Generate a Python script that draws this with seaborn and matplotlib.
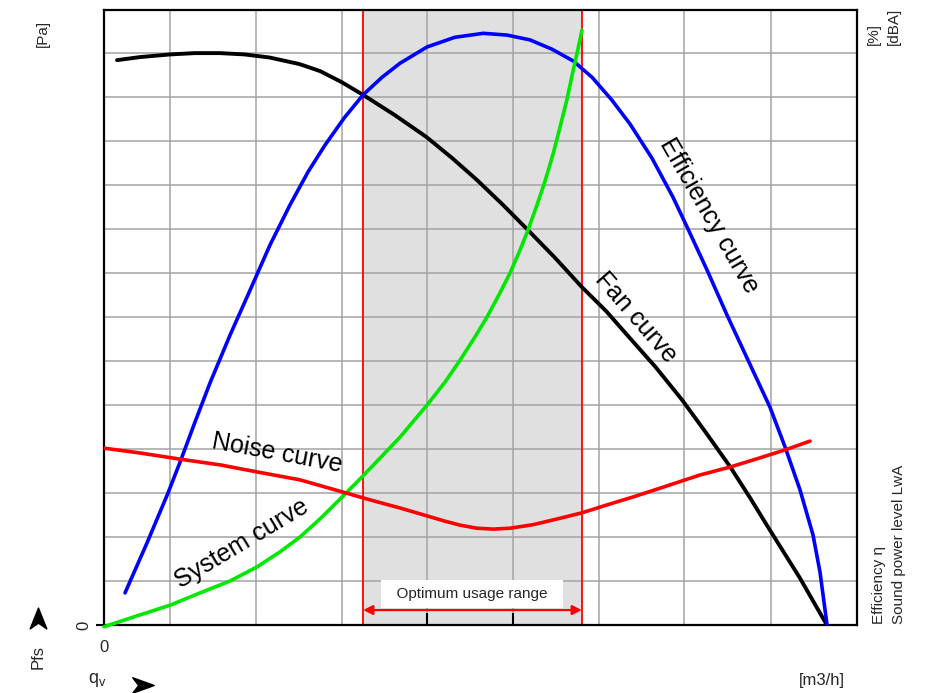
import matplotlib
matplotlib.use("Agg")
import matplotlib.pyplot as plt
from matplotlib.lines import Line2D
from matplotlib.path import Path
import seaborn as sns

# flow axis: one grid cell = 100, vertical axis: one grid cell = 10
fan_q = [15.2, 42, 77, 106, 135, 164, 193, 228, 252, 277, 302, 339, 376, 406, 435, 465, 494,
         526, 557, 585, 613, 643, 674, 702, 730, 753, 776, 811, 841]
fan_p = [128.4, 129.1, 129.7, 130.0, 130.0, 129.7, 129.0, 127.5, 125.9, 123.4, 120.5, 115.9,
         110.9, 106.1, 101.1, 95.5, 89.8, 83.4, 76.8, 71.4, 65.2, 58.6, 51.1, 43.6, 35.9,
         28.9, 21.6, 10.7, 0.5]

eff_q = [24.5, 50, 74.6, 88.6, 106, 123.5, 146.9, 170.2, 193.5, 216.8, 237.8, 257.6, 279.7,
         301.9, 324, 345, 376.5, 409, 442, 469.7, 496.5, 522, 547, 568.8, 592, 613, 638.7,
         663, 679.5, 702.8, 726, 750.6, 776.2, 793.7, 811.2, 826.3, 834.5, 842.7]
eff_v = [7.3, 18.6, 30.0, 37.0, 46.1, 55.0, 65.9, 76.1, 86.4, 95.5, 103.0, 109.1, 115.2,
         120.5, 124.5, 127.7, 131.4, 133.6, 134.5, 134.1, 133.0, 130.9, 128.2, 124.5, 119.3,
         113.9, 106.1, 97.3, 90.5, 80.7, 70.5, 60.2, 49.5, 40.5, 30.7, 20.5, 12.0, 0.0]

sys_q = [0, 42, 77, 112, 146.9, 178.3, 205, 228.4, 251.7, 278.6, 301.9, 324, 345, 376.5,
         397.4, 415, 432.4, 446.4, 461.5, 473.2, 484.8, 494.2, 504.7, 514, 523.3, 531.5,
         539.6, 546.6, 552.4, 557]
sys_p = [-0.4, 2.3, 4.5, 7.3, 10.0, 13.2, 16.6, 20.0, 24.1, 29.3, 33.9, 38.4, 42.7, 50.0,
         55.2, 60.2, 65.5, 70.0, 75.5, 80.0, 85.2, 89.8, 95.5, 100.9, 107.0, 113.2, 119.5,
         125.9, 130.9, 135.2]

noise_q = [0, 42, 88.6, 135.2, 178.3, 228.4, 278.6, 301.9, 324, 345, 376.5, 397.4, 415,
           434.7, 453.4, 473.2, 500, 528, 557, 586.2, 616.5, 648, 694.6, 729.6, 764.6,
           793.7, 822.8]
noise_v = [40.2, 39.1, 37.7, 36.4, 34.8, 33.0, 30.2, 28.9, 27.7, 26.6, 24.8, 23.6, 22.7,
           22.0, 21.8, 22.0, 22.8, 24.1, 25.5, 27.3, 29.1, 31.1, 34.1, 35.9, 38.0, 39.8, 41.8]

range_lo, range_hi = 302, 557
q_grid = [77, 177, 277, 376, 477, 577, 676, 777]
v_grid = [10, 20, 30, 40, 50, 60, 70, 80, 90, 100, 110, 120, 130]
inner_ticks = [376, 477]

sns.set_theme(style="white")
plt.rcParams["font.family"] = ["Liberation Sans", "DejaVu Sans"]

W, H = 948, 693
fig = plt.figure(figsize=(W / 100, H / 100), dpi=100)
ax = fig.add_axes([104 / W, 1 - 625 / H, 753 / W, 615 / H])
ax.set_xlim(0, 877.6)
ax.set_ylim(0, 139.8)

# optimum usage range
ax.axvspan(range_lo, range_hi, color="#e0e0e0", zorder=0.2, lw=0)
ax.set_axisbelow(True)

ax.set_xticks([0])
ax.set_xticklabels(["0"], fontsize=12)
ax.set_xticks(q_grid, minor=True)
ax.set_yticks([0])
ax.set_yticklabels(["0"], fontsize=12, rotation=90, va="center")
ax.set_yticks(v_grid, minor=True)
ax.tick_params(axis="x", which="major", length=0, pad=11)
ax.tick_params(axis="y", which="major", length=6, width=1.5, color="black", pad=3,
               left=True)
ax.tick_params(which="minor", length=0)
ax.grid(which="minor", color="#a3a3a3", lw=1.1)
for s in ax.spines.values():
    s.set_color("black")
    s.set_linewidth(1.6)

ax.vlines(inner_ticks, 0, 2.8, color="black", lw=1.5, zorder=3)
for xv in (range_lo, range_hi):
    ax.axvline(xv, color="red", lw=1.3, zorder=2)

sns.lineplot(x=fan_q, y=fan_p, color="black", lw=2.8, ax=ax, sort=False, zorder=4)
sns.lineplot(x=eff_q, y=eff_v, color="#0000ff", lw=2.6, ax=ax, sort=False, zorder=4)
sns.lineplot(x=sys_q, y=sys_p, color="#00e800", lw=2.6, ax=ax, sort=False, zorder=4,
             clip_on=False)
sns.lineplot(x=noise_q, y=noise_v, color="#ff0000", lw=2.6, ax=ax, sort=False, zorder=4)

ax.annotate("", xy=(range_hi, 3.4), xytext=(range_lo, 3.4),
            arrowprops=dict(arrowstyle="<|-|>", color="red", lw=1.6,
                            mutation_scale=14, shrinkA=0, shrinkB=0), zorder=5)
ax.text((range_lo + range_hi) / 2 - 1, 7.0, "  Optimum usage range  ", fontsize=11,
        ha="center", va="center", zorder=5,
        bbox=dict(boxstyle="square,pad=0.45", fc="white", ec="none"))

# curve names
lbl = dict(fontsize=18, ha="center", va="center", color="black", rotation_mode="anchor")
ax.text(705, 93.0, "Efficiency curve", rotation=-60, **lbl)
ax.text(620, 70.0, "Fan curve", rotation=-49, **lbl)
ax.text(202, 39.1, "Noise curve", rotation=-10.5, **lbl)
ax.text(160, 18.4, "System curve", rotation=31, **lbl)

# outer labels
def ftext(px, py, s, **kw):
    fig.text(px / W, 1 - py / H, s, **kw)

ftext(43, 33, "[Pa]", fontsize=11, rotation=90, ha="center", va="center")
ftext(874, 45, "[%]", fontsize=11, rotation=90, ha="center", va="bottom")
ftext(894, 45, "[dBA]", fontsize=11, rotation=90, ha="center", va="bottom")
ftext(879, 624, "Efficiency \u03b7", fontsize=11, rotation=90, ha="center", va="bottom")
ftext(899, 624, "Sound power level LwA", fontsize=11, rotation=90, ha="center", va="bottom")
ftext(38, 657, "Pfs", fontsize=12, rotation=90, ha="center", va="center")
ftext(97, 680, r"q$_\mathregular{v}$", fontsize=13, ha="center", va="center")
ftext(822, 680, "[m3/h]", fontsize=12, ha="center", va="center")

# notched arrowheads next to the axis names
head = Path([(1, 0), (-1, 0.72), (-0.45, 0), (-1, -0.72), (1, 0)],
            [Path.MOVETO, Path.LINETO, Path.LINETO, Path.LINETO, Path.CLOSEPOLY])
head_up = Path([(0, 1), (0.8, -1), (0, -0.45), (-0.8, -1), (0, 1)], head.codes)
fig.add_artist(Line2D([38 / W], [1 - 618 / H], transform=fig.transFigure, marker=head_up,
                      markersize=15, color="black", lw=0))
fig.add_artist(Line2D([143 / W], [1 - 685 / H], transform=fig.transFigure, marker=head,
                      markersize=15.5, color="black", lw=0))

fig.savefig("out.png", dpi=100, facecolor="white")
